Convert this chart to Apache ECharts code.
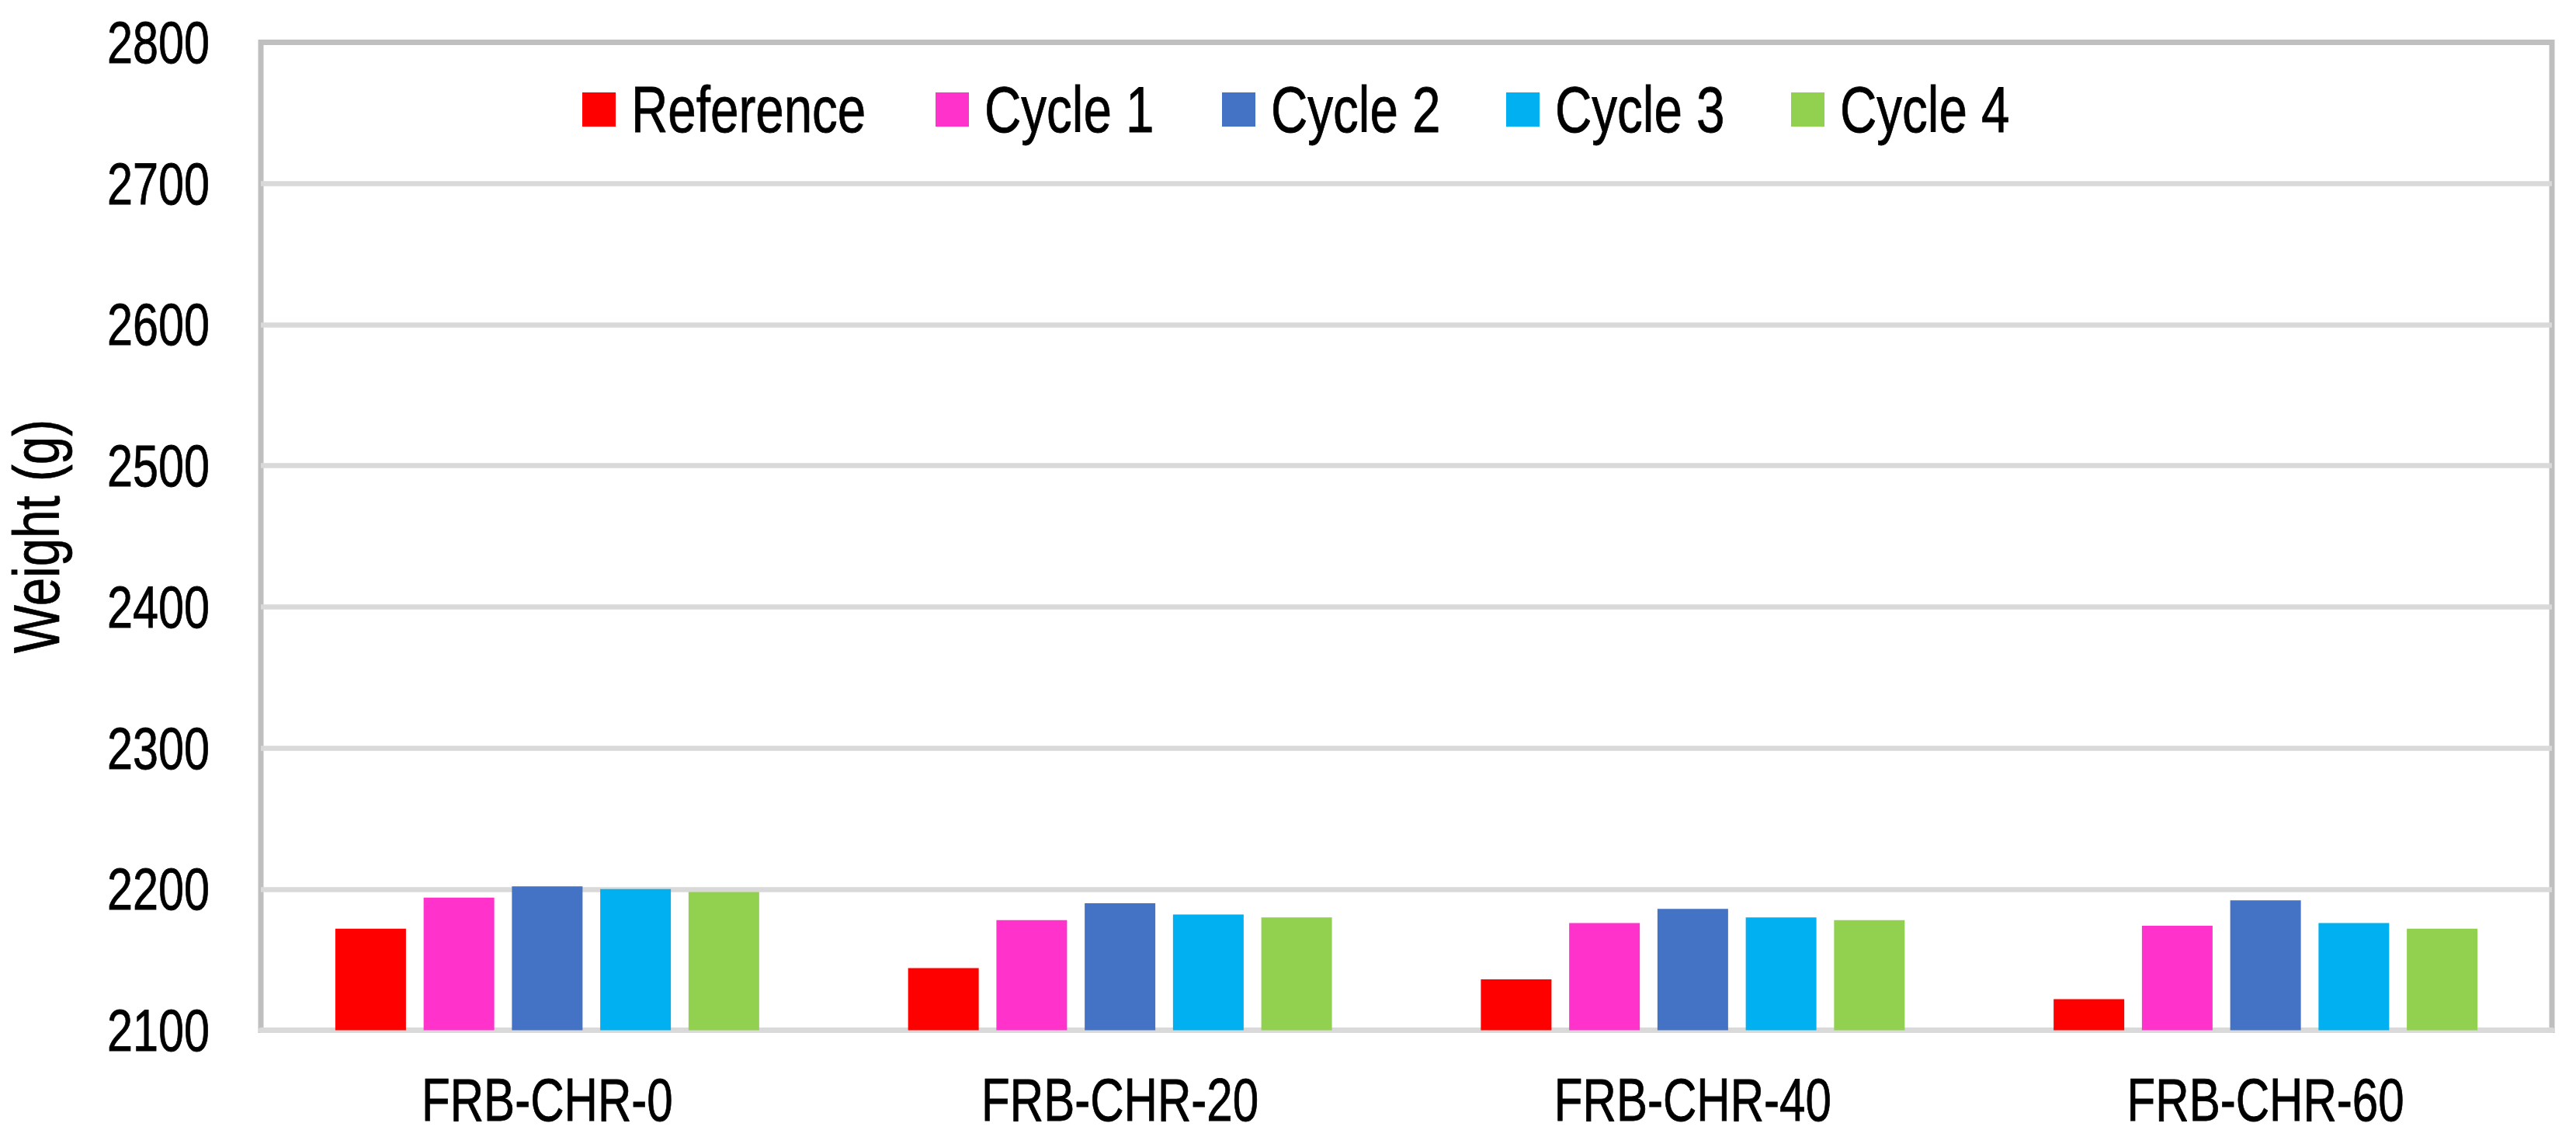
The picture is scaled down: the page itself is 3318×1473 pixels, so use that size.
<!DOCTYPE html>
<html>
<head>
<meta charset="utf-8">
<script src="https://cdn.jsdelivr.net/npm/echarts@6/dist/echarts.min.js"></script>
<style>
html,body{margin:0;padding:0;background:#fff;}
#chart{width:3318px;height:1473px;}
</style>
</head>
<body>
<div id="chart"></div>
<script>
const categories = ['FRB-CHR-0', 'FRB-CHR-20', 'FRB-CHR-40', 'FRB-CHR-60'];
const seriesNames = ['Reference', 'Cycle 1', 'Cycle 2', 'Cycle 3', 'Cycle 4'];
const referenceValues = [2172, 2144, 2136, 2122];
const cycle1Values = [2194, 2178, 2176, 2174];
const cycle2Values = [2202, 2190, 2186, 2192];
const cycle3Values = [2200, 2182, 2180, 2176];
const cycle4Values = [2198, 2180, 2178, 2172];
const colors = ['#FF0000', '#FF33CC', '#4472C4', '#00B0F0', '#92D050'];
const yMin = 2100, yMax = 2800, yStep = 100;
const yTitle = 'Weight (g)';

const FONT = "'Liberation Sans', Arial, sans-serif";
const NARROW = 0.78; // emulate the narrow typeface of the original
const allValues = [referenceValues, cycle1Values, cycle2Values, cycle3Values, cycle4Values];
const legendLefts = [750, 1205, 1574, 1940, 2307];
const txt = {fontFamily: FONT, color: '#000', textBorderColor: '#000', textBorderWidth: 0.8};

const chart = echarts.init(document.getElementById('chart'), null, {renderer: 'svg'});
chart.setOption({
  animation: false,
  backgroundColor: '#ffffff',
  color: colors,
  textStyle: {fontFamily: FONT},
  legend: seriesNames.map((n, i) => ({
    left: legendLefts[i],
    top: 98.5,
    padding: 0,
    icon: 'rect',
    itemWidth: 43,
    itemHeight: 44,
    data: [n],
    textStyle: Object.assign({}, txt, {fontSize: 84, padding: [0, 0, 4, 15]})
  })),
  grid: {
    left: 336, right: 31, top: 54.5, bottom: 146.5,
    outerBoundsMode: 'none',
    containLabel: false,
    show: true, borderColor: '#bfbfbf', borderWidth: 7, backgroundColor: 'transparent'
  },
  xAxis: {
    type: 'category',
    data: categories,
    axisTick: {show: false},
    axisLine: {show: true, lineStyle: {color: '#d9d9d9', width: 7}},
    axisLabel: Object.assign({}, txt, {fontSize: 77, margin: 51})
  },
  yAxis: {
    type: 'value',
    min: yMin, max: yMax, interval: yStep,
    name: yTitle,
    nameLocation: 'middle',
    nameGap: 232,
    nameRotate: 90,
    nameTextStyle: Object.assign({}, txt, {fontSize: 84}),
    axisLine: {show: false},
    axisTick: {show: false},
    axisLabel: Object.assign({}, txt, {fontSize: 76, margin: 66, formatter: v => String(v)}),
    splitLine: {show: true, lineStyle: {color: ['#d9d9d9','#d9d9d9','#d9d9d9','#d9d9d9','#d9d9d9','#d9d9d9','#d9d9d9','#bfbfbf'], width: 6.5}}
  },
  series: seriesNames.map((n, i) => ({
    name: n,
    type: 'bar',
    data: allValues[i],
    barGap: '25%',
    barCategoryGap: '26%',
    itemStyle: {color: colors[i]}
  }))
});

function compressTexts() {
  const svg = document.querySelector('#chart svg');
  if (!svg) return;
  svg.querySelectorAll('text').forEach(t => {
    if (t.getAttribute('data-cmp')) return;
    const w = t.getComputedTextLength();
    if (w > 0) {
      t.setAttribute('textLength', (w * NARROW).toFixed(2));
      t.setAttribute('lengthAdjust', 'spacingAndGlyphs');
      t.setAttribute('data-cmp', '1');
    }
  });
}
chart.on('finished', compressTexts);
compressTexts();
setTimeout(compressTexts, 30);
setTimeout(compressTexts, 200);
</script>
</body>
</html>
